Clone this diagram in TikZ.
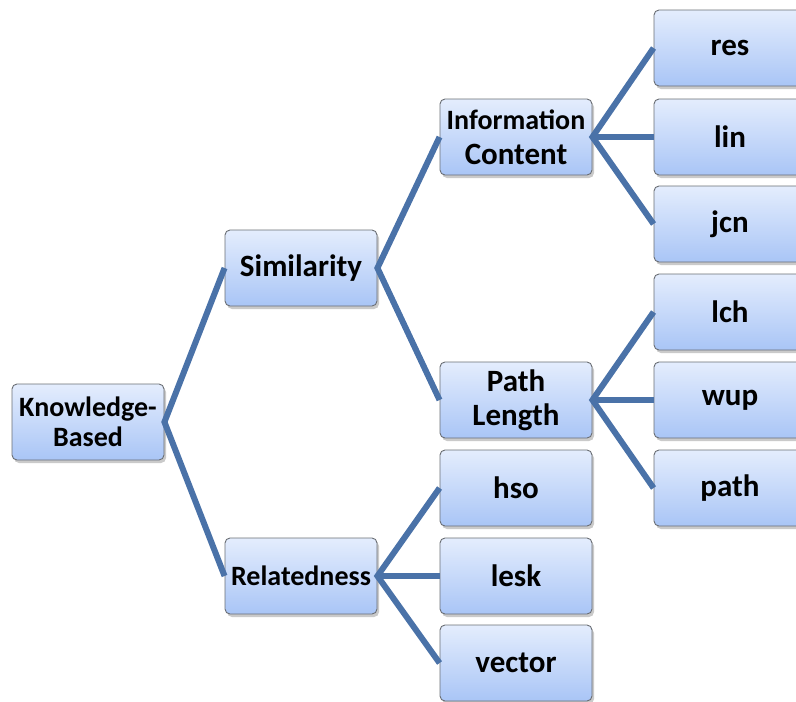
\documentclass[tikz,border=0pt]{standalone}
\usepackage{fontspec}
\setmainfont{Carlito}
\usetikzlibrary{shadows}
\definecolor{linkblue}{HTML}{4A72A8}
\definecolor{boxtop}{HTML}{E4EDFD}
\definecolor{boxbottom}{HTML}{A9C5F6}
\definecolor{boxedge}{HTML}{6A6E74}
\tikzset{
  box/.style={draw=boxedge, line width=0.9pt, rounded corners=5pt,
    top color=boxtop, bottom color=boxbottom,
    minimum width=152pt, minimum height=76pt, inner sep=2pt,
    align=center, font=\bfseries\fontsize{31}{34}\selectfont,
    drop shadow={shadow xshift=2pt, shadow yshift=-3pt, opacity=0.35, fill=black!60}},
  small/.style={font=\bfseries\fontsize{28}{30}\selectfont},
  link/.style={draw=linkblue, line width=6pt}
}
\begin{document}
\begin{tikzpicture}[x=1pt,y=-1pt]
\useasboundingbox (0,0) rectangle (796,702);
\clip (0,0) rectangle (796,702);
% tree nodes
\node[box, small] (kb)   at (88,422)  {Knowledge-\\Based};
\node[box] (sim)  at (301,268) {Similarity};
\node[box, small] (rel)  at (301,576) {Relatedness};
\node[box] (ic)   at (516,137) {{\fontsize{28}{33}\selectfont Information}\\[1pt]Content};
\node[box] (pl)   at (516,400) {Path\\Length};
\node[box] (res)  at (730,48)  {res};
\node[box] (lin)  at (730,137) {lin};
\node[box] (jcn)  at (730,224) {jcn};
\node[box] (lch)  at (730,312) {lch};
\node[box] (wup)  at (730,400) {wup};
\node[box] (path) at (730,488) {path};
\node[box] (hso)  at (516,488) {hso};
\node[box] (lesk) at (516,576) {lesk};
\node[box] (vec)  at (516,663) {vector};
% connectors
\draw[link] (sim.west) -- (kb.east) -- (rel.west);
\draw[link] (ic.west) -- (sim.east) -- (pl.west);
\draw[link] (res.west) -- (ic.east) -- (jcn.west);
\draw[link] (ic.east) -- (lin.west);
\draw[link] (lch.west) -- (pl.east) -- (path.west);
\draw[link] (pl.east) -- (wup.west);
\draw[link] (hso.west) -- (rel.east) -- (vec.west);
\draw[link] (rel.east) -- (lesk.west);
\end{tikzpicture}
\end{document}
